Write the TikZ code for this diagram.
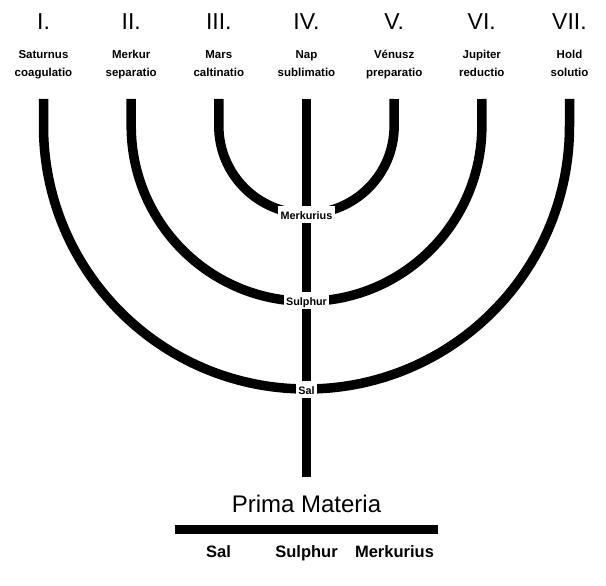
\documentclass[tikz,border=0pt]{standalone}
\usepackage{fontspec}
\setmainfont{Liberation Sans}
\begin{document}
\begin{tikzpicture}[x=1pt,y=1pt,
  arm/.style={line width=9.5pt},
  bar/.style={line width=9pt},
  num/.style={font=\fontsize{23}{23}\selectfont, anchor=base, inner sep=0pt},
  sub/.style={font=\bfseries\fontsize{11.5}{13}\selectfont, anchor=base, inner sep=0pt},
  junction/.style={fill=white, anchor=base, font=\bfseries\fontsize{10.8}{13}\selectfont,
    text height=10pt, text depth=0.5pt, inner xsep=2.5pt, inner ysep=3.5pt},
  title/.style={font=\fontsize{24}{24}\selectfont, anchor=base, inner sep=0pt},
  element/.style={font=\bfseries\fontsize{16.5}{18}\selectfont, anchor=base, inner sep=0pt}]
\useasboundingbox (0,0) rectangle (606,-586);
\foreach \x/\n/\a/\b [count=\i] in {
  43.5/I./Saturnus/coagulatio,
  131.2/II./Merkur/separatio,
  218.8/III./Mars/caltinatio,
  306.5/IV./Nap/sublimatio,
  394.2/V./Vénusz/preparatio,
  481.8/VI./Jupiter/reductio,
  569.5/VII./Hold/solutio}{
  \node[num] (n\i) at (\x,-30) {\n};
  \node[sub] (a\i) at (\x,-58.5) {\a};
  \node[sub] (b\i) at (\x,-76.5) {\b};
  \coordinate (t\i) at (\x,-99);
}
\coordinate (base) at (306.5,-477);
% arms
\draw[arm] (t3) -- ++(0,-27) arc[start angle=180,end angle=360,radius=87.67] -- (t5);
\draw[arm] (t2) -- ++(0,-27) arc[start angle=180,end angle=360,radius=175.33] -- (t6);
\draw[arm] (t1) -- ++(0,-27) arc[start angle=180,end angle=360,radius=263] -- (t7);
\draw[arm] (t4) -- (base);
% junction labels
\node[junction] (merk) at (306.5,-219) {Merkurius};
\node[junction] (sulph) at (306.5,-305) {Sulphur};
\node[junction] (sal) at (306.5,-394) {Sal};
% base
\node[title] (prima) at (306.5,-512) {Prima Materia};
\coordinate (barL) at (175,-529.5);
\coordinate (barR) at (438,-529.5);
\draw[bar] (barL) -- (barR);
\node[element] (esal) at (218.5,-557) {Sal};
\node[element] (esulph) at (306.5,-557) {Sulphur};
\node[element] (emerk) at (394.5,-557) {Merkurius};
\end{tikzpicture}
\end{document}
